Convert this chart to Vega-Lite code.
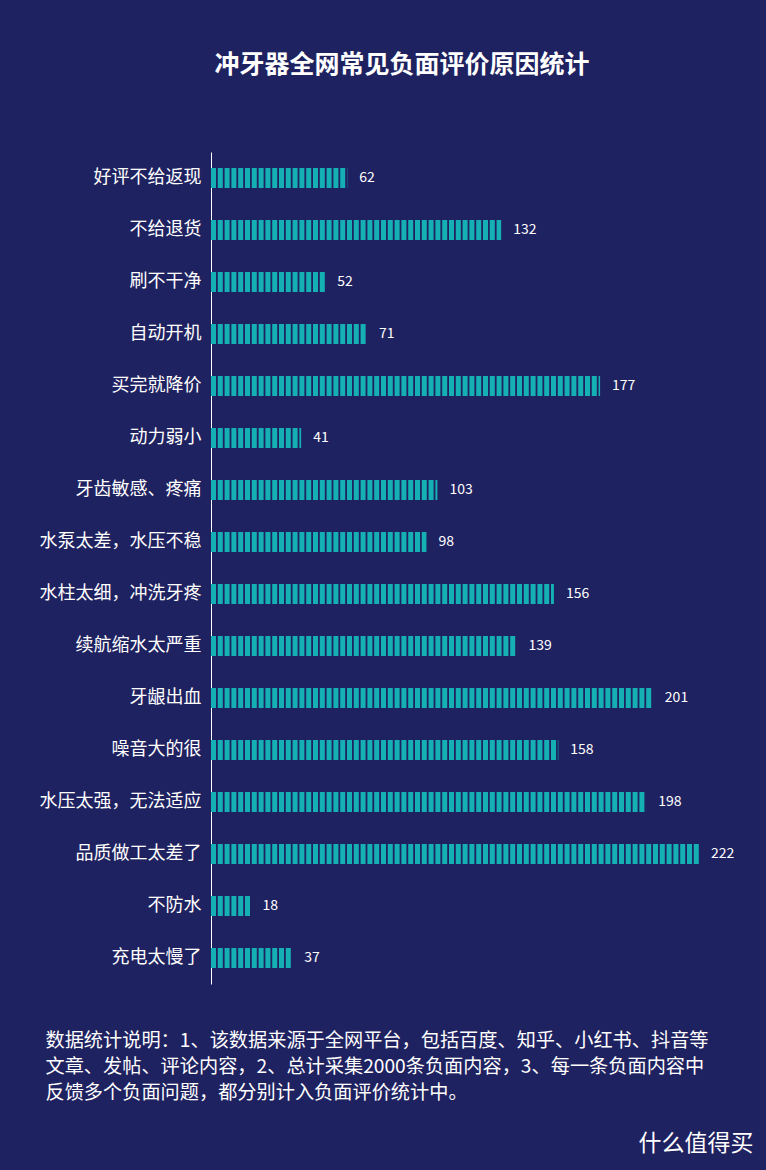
{
  "$schema": "https://vega.github.io/schema/vega-lite/v6.json",
  "width": 488,
  "height": 832,
  "autosize": {"type": "none"},
  "padding": {"left": 211, "top": 152, "right": 67, "bottom": 186},
  "background": "#1f2260",
  "config": {"view": {"stroke": null}, "font": "Noto Sans CJK SC"},
  "title": {
    "text": "冲牙器全网常见负面评价原因统计",
    "color": "#ffffff",
    "fontSize": 25,
    "fontWeight": "bold",
    "font": "Noto Sans CJK SC",
    "anchor": "middle",
    "dx": -53,
    "baseline": "bottom",
    "offset": 49
  },
  "data": {
    "values": [
      {"reason": "好评不给返现", "count": 62, "zero": 0},
      {"reason": "不给退货", "count": 132, "zero": 0},
      {"reason": "刷不干净", "count": 52, "zero": 0},
      {"reason": "自动开机", "count": 71, "zero": 0},
      {"reason": "买完就降价", "count": 177, "zero": 0},
      {"reason": "动力弱小", "count": 41, "zero": 0},
      {"reason": "牙齿敏感、疼痛", "count": 103, "zero": 0},
      {"reason": "水泵太差，水压不稳", "count": 98, "zero": 0},
      {"reason": "水柱太细，冲洗牙疼", "count": 156, "zero": 0},
      {"reason": "续航缩水太严重", "count": 139, "zero": 0},
      {"reason": "牙龈出血", "count": 201, "zero": 0},
      {"reason": "噪音大的很", "count": 158, "zero": 0},
      {"reason": "水压太强，无法适应", "count": 198, "zero": 0},
      {"reason": "品质做工太差了", "count": 222, "zero": 0},
      {"reason": "不防水", "count": 18, "zero": 0},
      {"reason": "充电太慢了", "count": 37, "zero": 0}
    ]
  },
  "encoding": {
    "y": {
      "field": "reason",
      "type": "nominal",
      "sort": null,
      "scale": {"paddingInner": 0, "paddingOuter": 0},
      "axis": {
        "title": "什么值得买",
        "titleColor": "#ffffff",
        "titleFontSize": 23,
        "titleFontWeight": "normal",
        "titleAngle": 0,
        "titleAlign": "left",
        "titleBaseline": "middle",
        "titleX": 427,
        "titleY": 991,
        "domainColor": "#ffffff",
        "domainWidth": 1,
        "ticks": false,
        "labelPadding": 10,
        "labelColor": "#ffffff",
        "labelFontSize": 18,
        "labelFont": "Noto Sans CJK SC"
      }
    }
  },
  "layer": [
    {
      "mark": {"type": "rule", "strokeWidth": 20, "strokeDash": [5, 1.8], "strokeCap": "butt", "color": "#14b0b3"},
      "encoding": {
        "x": {
          "field": "zero",
          "type": "quantitative",
          "scale": {"domain": [0, 222], "nice": false, "zero": true},
          "axis": {
            "title": [
              "数据统计说明：1、该数据来源于全网平台，包括百度、知乎、小红书、抖音等",
              "文章、发帖、评论内容，2、总计采集2000条负面内容，3、每一条负面内容中",
              "反馈多个负面问题，都分别计入负面评价统计中。"
            ],
            "titleColor": "#ffffff",
            "titleFontSize": 19.2,
            "titleFontWeight": "normal",
            "titleAlign": "left",
            "titleBaseline": "top",
            "titleLineHeight": 26,
            "titleX": -166,
            "titleY": 47,
            "domain": false,
            "ticks": false,
            "labels": false,
            "grid": false
          }
        },
        "x2": {"field": "count"}
      }
    },
    {
      "mark": {"type": "text", "align": "left", "baseline": "middle", "dx": 12, "fontSize": 14, "color": "#ffffff"},
      "encoding": {
        "x": {"field": "count", "type": "quantitative"},
        "text": {"field": "count", "type": "quantitative"}
      }
    }
  ]
}
